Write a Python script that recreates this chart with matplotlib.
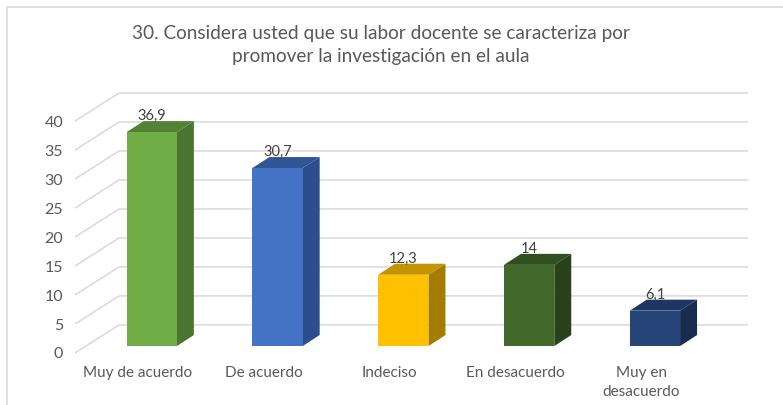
import matplotlib
matplotlib.use("Agg")
import matplotlib.pyplot as plt
from matplotlib.patches import Polygon, Rectangle

categories = ["Muy de acuerdo", "De acuerdo", "Indeciso", "En desacuerdo", "Muy en\ndesacuerdo"]
values = [36.9, 30.7, 12.3, 14, 6.1]
value_labels = ["36,9", "30,7", "12,3", "14", "6,1"]
y_ticks = [0, 5, 10, 15, 20, 25, 30, 35, 40]
title = "30. Considera usted que su labor docente se caracteriza por\npromover la investigación en el aula"

front_colors = ["#70AD47", "#4472C4", "#FFC000", "#43682B", "#264478"]
top_colors = ["#548235", "#2F5597", "#C49400", "#2F4F1E", "#1E3662"]
side_colors = ["#4A7530", "#2D4E8C", "#A37C00", "#2A4219", "#182C50"]

FONT = ["Lato", "DejaVu Sans"]
plt.rcParams["font.family"] = FONT

W, H = 783, 405
fig = plt.figure(figsize=(W / 100, H / 100), dpi=100)
fig.patch.set_facecolor("white")

# outer border
fig.patches.append(Rectangle((6.5 / W, -1), 2, 2 - 7 / H, transform=fig.transFigure,
                             fill=False, edgecolor="#d9d9d9", lw=1.2))

ax = fig.add_axes([75 / W, (H - 353) / H, (748 - 75) / W, (353 - 93) / H])
DX, DY = 0.35, 4.85
ax.set_xlim(-0.5, 4.5 + DX)
ax.set_ylim(0, 40 + DY)
for s in ax.spines.values():
    s.set_visible(False)

grid_c = "#d9d9d9"
for v in y_ticks:
    ax.plot([-0.5, -0.5 + DX, 4.5 + DX], [v, v + DY, v + DY], color=grid_c, lw=1.1,
            zorder=0, clip_on=False, solid_capstyle="butt")

off_x, off_y = 0.11, 1.2
bw = 0.4
sdx, sdy = 0.135, 1.9
for i, v in enumerate(values):
    x0 = i + off_x - bw / 2
    x1 = x0 + bw
    y0 = off_y
    y1 = off_y + v
    ax.add_patch(Polygon([(x1, y0), (x1 + sdx, y0 + sdy), (x1 + sdx, y1 + sdy), (x1, y1)],
                         closed=True, facecolor=side_colors[i], edgecolor="none", zorder=3))
    ax.add_patch(Polygon([(x0, y1), (x1, y1), (x1 + sdx, y1 + sdy), (x0 + sdx, y1 + sdy)],
                         closed=True, facecolor=top_colors[i], edgecolor="none", zorder=3))
    ax.add_patch(Rectangle((x0, y0), bw, v, facecolor=front_colors[i], edgecolor="none", zorder=4))
    ax.text(i + off_x, y1 + sdy + 0.9, value_labels[i], ha="center", va="center",
            fontsize=10.5, color="#404040", zorder=6)

ax.set_yticks(y_ticks)
ax.set_yticklabels([str(t) for t in y_ticks])
ax.set_xticks(range(len(categories)))
ax.set_xticklabels(categories, linespacing=1.45)
ax.tick_params(axis="y", length=0, pad=8.6, labelsize=11.5, labelcolor="#595959")
ax.tick_params(axis="x", length=0, pad=9.5, labelsize=11, labelcolor="#595959")

fig.text(381 / W, 1 - 45 / H, title, ha="center", va="center", fontsize=13.7,
         color="#595959", linespacing=1.45)

fig.savefig("out.png", dpi=100)
